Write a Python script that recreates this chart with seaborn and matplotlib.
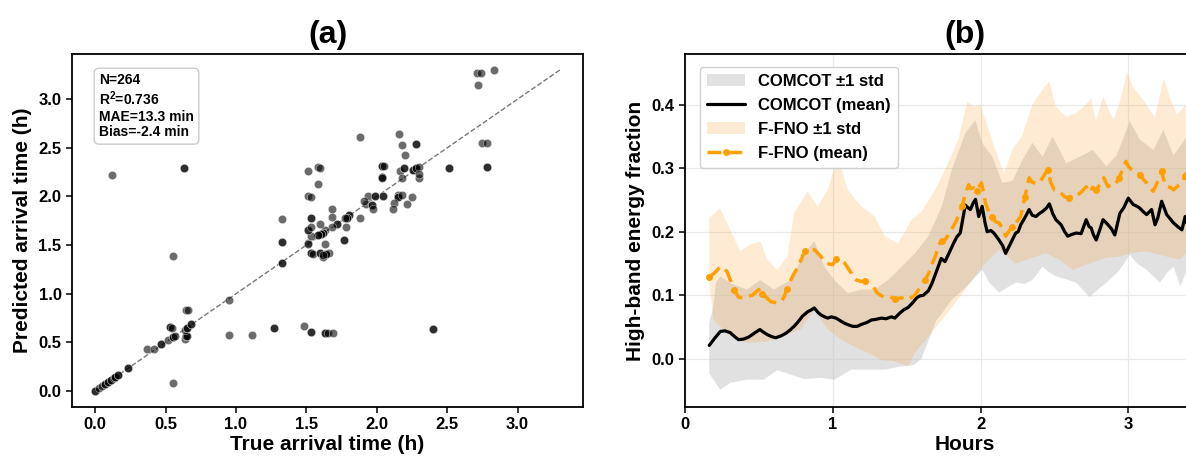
import numpy as np
import matplotlib
matplotlib.use("Agg")
import matplotlib.pyplot as plt
import seaborn as sns

# ---------------- (a) arrival-time scatter ----------------
true_h = [
    0.00, 0.00, 0.03, 0.05, 0.07, 0.07, 0.09, 0.09, 0.11, 0.11, 0.13, 0.14, 0.14, 0.16, 0.16,
    0.235, 0.235, 0.55, 0.55, 0.365, 0.416, 0.47, 0.47, 0.515, 0.55, 0.55, 0.57, 0.53, 0.53,
    0.545, 0.635, 0.645, 0.645, 0.65, 0.635, 0.65, 0.65, 0.68, 0.68, 0.645, 0.66, 0.95, 0.95,
    1.115, 1.27, 1.27, 1.33, 1.33, 1.33, 1.33, 1.33, 1.48, 1.535, 1.535, 1.63, 1.63, 1.65, 1.69,
    1.515, 0.12, 0.63, 0.63,
    1.88, 2.16, 2.18, 2.28, 2.28, 2.20, 2.75, 2.78, 2.78, 2.78, 2.515, 2.515, 1.515, 1.58, 1.60,
    1.58, 1.515, 1.535, 2.035, 2.035, 2.05, 2.035, 2.035, 2.04, 2.165, 2.19, 2.19, 2.18, 2.26,
    2.26, 2.28, 2.28, 2.30, 2.30, 2.30, 1.935, 1.985, 1.985, 2.045, 2.045, 1.92, 1.965, 1.965,
    1.97, 1.91, 2.15, 2.15, 2.15, 2.18, 2.12, 2.115, 2.215, 2.25, 1.88, 1.80, 1.80, 1.79, 1.79,
    1.775, 1.72, 1.72, 1.68, 1.63, 1.615, 1.615, 1.605, 1.605, 1.58, 1.58, 1.535, 1.68, 1.68,
    1.60, 1.535, 1.535, 1.515, 1.515, 1.535, 1.78, 1.77, 1.77, 1.63, 1.515, 1.535, 1.535, 1.545,
    1.60, 1.60, 1.615, 1.64, 1.66, 1.64, 1.62, 2.40, 2.40, 2.71, 2.74, 2.83, 2.72,
]
pred_h = [
    0.00, 0.00, 0.03, 0.05, 0.07, 0.07, 0.09, 0.09, 0.11, 0.11, 0.13, 0.14, 0.14, 0.16, 0.16,
    0.233, 0.233, 1.39, 0.08, 0.435, 0.435, 0.48, 0.48, 0.52, 0.55, 0.55, 0.57, 0.655, 0.655,
    0.645, 0.53, 0.56, 0.56, 0.565, 0.63, 0.645, 0.645, 0.685, 0.685, 0.83, 0.83, 0.935, 0.58,
    0.58, 0.65, 0.65, 1.32, 1.32, 1.53, 1.53, 1.77, 0.668, 0.61, 0.61, 0.60, 0.60, 0.60, 0.60,
    1.52, 2.22, 2.29, 2.29,
    2.615, 2.645, 2.53, 2.535, 2.535, 2.425, 2.545, 2.545, 2.305, 2.305, 2.295, 2.295, 2.26, 2.305, 2.29,
    2.125, 2.00, 1.99, 2.31, 2.31, 2.31, 2.20, 2.20, 2.195, 2.26, 2.29, 2.29, 2.185, 2.27,
    2.27, 2.295, 2.295, 2.305, 2.195, 2.23, 2.00, 2.00, 2.00, 2.00, 2.00, 1.92, 1.91, 1.91,
    1.875, 1.95, 2.02, 1.99, 1.99, 2.02, 1.93, 1.875, 1.92, 1.99, 1.775, 1.81, 1.81, 1.78, 1.78,
    1.775, 1.72, 1.72, 1.69, 1.655, 1.62, 1.62, 1.61, 1.61, 1.60, 1.60, 1.595, 1.87, 1.79,
    1.72, 1.775, 1.775, 1.66, 1.66, 1.69, 1.69, 1.55, 1.55, 1.515, 1.515, 1.415, 1.415, 1.405,
    1.415, 1.415, 1.38, 1.405, 1.415, 1.41, 1.40, 0.635, 0.635, 3.27, 3.27, 3.30, 3.145,
]

# ---------------- (b) high-band energy fraction ----------------
comcot_t = [
    0.164, 0.20, 0.239, 0.27, 0.307, 0.34, 0.363, 0.397, 0.43, 0.455, 0.48, 0.507, 0.53, 0.557,
    0.585, 0.613, 0.65, 0.682, 0.71, 0.738, 0.765, 0.795, 0.83, 0.855, 0.875, 0.90, 0.92, 0.945,
    0.966, 0.99, 1.022, 1.05, 1.079, 1.11, 1.136, 1.165, 1.193, 1.23, 1.261, 1.29, 1.329, 1.36,
    1.397, 1.42, 1.454, 1.48, 1.511, 1.54, 1.568, 1.59, 1.613, 1.647, 1.67, 1.693, 1.734, 1.76,
    1.79, 1.818, 1.84, 1.863, 1.897, 1.915, 1.931, 1.95, 1.966, 1.988, 2.011, 2.03, 2.045, 2.07,
    2.09, 2.11, 2.125, 2.15, 2.17, 2.204, 2.238, 2.255, 2.272, 2.30, 2.329, 2.35, 2.375, 2.40,
    2.42, 2.445, 2.466, 2.49, 2.51, 2.545, 2.57, 2.59, 2.62, 2.647, 2.681, 2.715, 2.735, 2.749,
    2.765, 2.783, 2.81, 2.829, 2.863, 2.885, 2.909, 2.943, 2.97, 3.0, 3.033, 3.06, 3.079, 3.10,
    3.124, 3.158, 3.181, 3.2, 3.226, 3.26, 3.285, 3.306, 3.335, 3.363, 3.385, 3.41, 3.45,
]
comcot_mean = [
    0.021, 0.032, 0.043, 0.044, 0.041, 0.034, 0.030, 0.031, 0.034, 0.038, 0.042, 0.046, 0.042, 0.038,
    0.035, 0.033, 0.036, 0.040, 0.045, 0.051, 0.058, 0.067, 0.074, 0.077, 0.080, 0.073, 0.069, 0.066,
    0.064, 0.066, 0.064, 0.060, 0.056, 0.053, 0.051, 0.051, 0.054, 0.057, 0.061, 0.062, 0.064, 0.063,
    0.066, 0.064, 0.072, 0.077, 0.081, 0.088, 0.096, 0.099, 0.100, 0.107, 0.118, 0.132, 0.158, 0.153,
    0.168, 0.182, 0.192, 0.198, 0.242, 0.238, 0.235, 0.245, 0.251, 0.224, 0.240, 0.215, 0.200, 0.202,
    0.198, 0.192, 0.187, 0.178, 0.166, 0.182, 0.198, 0.200, 0.211, 0.222, 0.235, 0.226, 0.224, 0.229,
    0.232, 0.237, 0.244, 0.228, 0.219, 0.211, 0.200, 0.193, 0.196, 0.198, 0.197, 0.219, 0.208, 0.206,
    0.195, 0.187, 0.205, 0.219, 0.211, 0.205, 0.195, 0.229, 0.238, 0.253, 0.243, 0.240, 0.237, 0.232,
    0.227, 0.235, 0.211, 0.222, 0.248, 0.227, 0.220, 0.214, 0.208, 0.203, 0.224, 0.203, 0.210,
]

fno_t = [
    0.164, 0.20, 0.239, 0.26, 0.284, 0.31, 0.33, 0.363, 0.39, 0.42, 0.455, 0.48, 0.50, 0.52, 0.545,
    0.58, 0.60, 0.625, 0.65, 0.67, 0.69, 0.716, 0.74, 0.761, 0.79, 0.81, 0.83, 0.855, 0.875, 0.90,
    0.92, 0.94, 0.954, 0.98, 1.0, 1.022, 1.05, 1.079, 1.10, 1.125, 1.14, 1.159, 1.19, 1.216, 1.245,
    1.273, 1.30, 1.329, 1.36, 1.386, 1.42, 1.466, 1.49, 1.511, 1.535, 1.556, 1.59, 1.625, 1.65,
    1.67, 1.70, 1.716, 1.74, 1.76, 1.795, 1.834, 1.855, 1.875, 1.90, 1.92, 1.935, 1.954, 1.975,
    2.006, 2.02, 2.034, 2.055, 2.079, 2.10, 2.125, 2.15, 2.17, 2.19, 2.215, 2.24, 2.272, 2.30,
    2.329, 2.35, 2.375, 2.397, 2.42, 2.454, 2.475, 2.50, 2.52, 2.545, 2.57, 2.602, 2.625, 2.647,
    2.68, 2.715, 2.735, 2.76, 2.783, 2.81, 2.834, 2.863, 2.885, 2.909, 2.94, 2.96, 2.984, 3.0,
    3.022, 3.05, 3.079, 3.10, 3.124, 3.15, 3.17, 3.2, 3.226, 3.24, 3.26, 3.285, 3.306, 3.335,
    3.363, 3.385, 3.41, 3.45,
]
fno_mean = [
    0.129, 0.135, 0.145, 0.143, 0.1375, 0.122, 0.109, 0.097, 0.096, 0.098, 0.100, 0.105, 0.109, 0.102, 0.098,
    0.090, 0.089, 0.088, 0.090, 0.097, 0.110, 0.124, 0.135, 0.143, 0.158, 0.170, 0.171, 0.172, 0.172, 0.166,
    0.161, 0.155, 0.151, 0.149, 0.148, 0.1575, 0.155, 0.151, 0.144, 0.135, 0.128, 0.124, 0.122, 0.122, 0.118,
    0.114, 0.104, 0.099, 0.097, 0.098, 0.094, 0.096, 0.094, 0.093, 0.097, 0.100, 0.112, 0.124, 0.135,
    0.148, 0.165, 0.180, 0.185, 0.187, 0.200, 0.216, 0.228, 0.240, 0.262, 0.274, 0.268, 0.269, 0.265,
    0.277, 0.262, 0.245, 0.232, 0.224, 0.216, 0.214, 0.205, 0.193, 0.200, 0.208, 0.214, 0.224, 0.255,
    0.285, 0.278, 0.276, 0.277, 0.285, 0.298, 0.278, 0.266, 0.265, 0.261, 0.255, 0.253, 0.258, 0.256,
    0.262, 0.271, 0.262, 0.270, 0.266, 0.275, 0.285, 0.271, 0.275, 0.274, 0.285, 0.298, 0.311, 0.303,
    0.298, 0.293, 0.290, 0.283, 0.277, 0.268, 0.264, 0.280, 0.295, 0.282, 0.271, 0.270, 0.266, 0.272,
    0.277, 0.288, 0.298, 0.290,
]

# +/- 1 std envelopes (upper and lower edges)
comcot_up_t = [
    0.164, 0.19, 0.21, 0.239, 0.307, 0.42, 0.511, 0.602, 0.716, 0.807, 0.875, 0.943, 1.011, 1.102,
    1.193, 1.284, 1.375, 1.466, 1.556, 1.647, 1.738, 1.806, 1.897, 1.965, 2.011, 2.08, 2.148,
    2.216, 2.284, 2.352, 2.42, 2.488, 2.58, 2.67, 2.76, 2.852, 2.92, 3.011, 3.079, 3.17, 3.238,
    3.306, 3.397, 3.45,
]
comcot_up = [
    0.056, 0.080, 0.120, 0.130, 0.119, 0.109, 0.124, 0.109, 0.124, 0.166, 0.185, 0.145, 0.124, 0.103,
    0.109, 0.109, 0.124, 0.145, 0.166, 0.193, 0.240, 0.298, 0.355, 0.376, 0.340, 0.318, 0.277,
    0.280, 0.313, 0.340, 0.318, 0.350, 0.308, 0.318, 0.329, 0.303, 0.320, 0.374, 0.345, 0.329, 0.360,
    0.320, 0.350, 0.345,
]
comcot_lo_t = [
    0.164, 0.239, 0.307, 0.42, 0.534, 0.625, 0.716, 0.807, 0.92, 1.011, 1.125, 1.239, 1.352, 1.466,
    1.55, 1.60, 1.65, 1.70, 1.74, 1.806, 1.897, 2.011, 2.06, 2.125, 2.18, 2.238, 2.30, 2.352, 2.42,
    2.47, 2.511, 2.58, 2.647, 2.738, 2.80, 2.852, 2.90, 2.943, 3.011, 3.06, 3.124, 3.215, 3.26,
    3.306, 3.352, 3.415, 3.45,
]
comcot_lo = [
    -0.023, -0.049, -0.038, -0.033, -0.033, -0.018, -0.025, -0.032, -0.030, -0.033, -0.017, -0.017, -0.017, -0.012,
    -0.010, 0.000, 0.030, 0.060, 0.072, 0.093, 0.112, 0.140, 0.120, 0.104, 0.112, 0.120, 0.118, 0.124, 0.145,
    0.135, 0.130, 0.125, 0.120, 0.097, 0.110, 0.120, 0.130, 0.140, 0.164, 0.150, 0.140, 0.120, 0.135,
    0.145, 0.114, 0.150, 0.140,
]
fno_up_t = [
    0.164, 0.239, 0.307, 0.375, 0.443, 0.511, 0.557, 0.625, 0.693, 0.738, 0.829, 0.898, 0.966, 1.034,
    1.102, 1.193, 1.284, 1.352, 1.443, 1.534, 1.602, 1.693, 1.76, 1.85, 1.91, 1.954, 2.0, 2.057,
    2.10, 2.16, 2.215, 2.28, 2.35, 2.42, 2.466, 2.51, 2.58, 2.64, 2.69, 2.75, 2.78, 2.83, 2.90,
    2.95, 2.99, 3.03, 3.10, 3.18, 3.24, 3.28, 3.33, 3.37, 3.415, 3.45,
]
fno_up = [
    0.222, 0.237, 0.203, 0.169, 0.180, 0.185, 0.156, 0.140, 0.161, 0.229, 0.264, 0.240, 0.266, 0.318,
    0.266, 0.240, 0.224, 0.193, 0.182, 0.219, 0.232, 0.266, 0.298, 0.345, 0.405, 0.397, 0.400, 0.360,
    0.329, 0.292, 0.329, 0.350, 0.400, 0.424, 0.437, 0.397, 0.381, 0.386, 0.395, 0.410, 0.374, 0.413, 0.376,
    0.410, 0.452, 0.429, 0.408, 0.380, 0.442, 0.413, 0.384, 0.395, 0.405, 0.410,
]
fno_lo_t = [
    0.164, 0.193, 0.307, 0.42, 0.557, 0.648, 0.784, 0.875, 0.966, 1.057, 1.148, 1.239, 1.33, 1.42,
    1.511, 1.556, 1.647, 1.70, 1.76, 1.829, 1.897, 2.011, 2.125, 2.238, 2.352, 2.443, 2.534, 2.624,
    2.738, 2.852, 2.943, 3.011, 3.124, 3.26, 3.352, 3.415, 3.45,
]
fno_lo = [
    0.120, 0.061, 0.035, 0.025, 0.027, 0.035, 0.046, 0.077, 0.046, 0.030, 0.019, 0.009, -0.002, -0.004,
    -0.012, 0.009, 0.035, 0.050, 0.067, 0.088, 0.109, 0.145, 0.172, 0.150, 0.159, 0.166, 0.156, 0.140,
    0.150, 0.159, 0.161, 0.166, 0.169, 0.161, 0.156, 0.172, 0.165,
]

# ---------------- styling ----------------
sns.set_style("ticks")
plt.rcParams["font.family"] = ["Liberation Sans", "DejaVu Sans"]
plt.rcParams["font.weight"] = "bold"
plt.rcParams["axes.labelweight"] = "bold"
plt.rcParams["axes.titleweight"] = "bold"
plt.rcParams["axes.linewidth"] = 1.3
plt.rcParams["axes.edgecolor"] = "black"
plt.rcParams["text.color"] = "black"
plt.rcParams["axes.labelcolor"] = "black"
plt.rcParams["xtick.color"] = "black"
plt.rcParams["ytick.color"] = "black"
plt.rcParams["mathtext.fontset"] = "custom"
plt.rcParams["mathtext.rm"] = "Liberation Sans:bold"
plt.rcParams["mathtext.bf"] = "Liberation Sans:bold"
plt.rcParams["mathtext.it"] = "Liberation Sans:bold"

W, H = 1186, 458
fig = plt.figure(figsize=(W / 100, H / 100), dpi=100)
ax1 = fig.add_axes([72 / W, 51 / H, 511 / W, 353 / H])
ax2 = fig.add_axes([685 / W, 51 / H, 560 / W, 353 / H])

# ---- panel (a)
sns.scatterplot(x=true_h, y=pred_h, ax=ax1, color="black", alpha=0.58, s=36,
                edgecolor="white", linewidth=0.4, zorder=3)
lim_hi = max(max(true_h), max(pred_h))
ax1.plot([0, lim_hi], [0, lim_hi], ls="--", color="#777777", lw=1.0, zorder=2)
pad = 0.05 * lim_hi
ax1.set_xlim(-pad, lim_hi + pad)
ax1.set_ylim(-pad, lim_hi + pad)
ax1.set_xticks([0.0, 0.5, 1.0, 1.5, 2.0, 2.5, 3.0])
ax1.set_yticks([0.0, 0.5, 1.0, 1.5, 2.0, 2.5, 3.0])
ax1.set_xlabel("True arrival time (h)", fontsize=15, labelpad=2)
ax1.set_ylabel("Predicted arrival time (h)", fontsize=15, labelpad=5)
ax1.set_title("(a)", fontsize=23, pad=8)
ax1.tick_params(labelsize=12, length=4, width=1.1)

stats = "N=264\n$\\mathbf{R^2}$=0.736\nMAE=13.3 min\nBias=-2.4 min"
ax1.text(0.053, 0.946, stats, transform=ax1.transAxes, fontsize=10, fontweight="bold",
         va="top", ha="left", linespacing=1.15,
         bbox=dict(boxstyle="round,pad=0.35", fc="white", ec="#cccccc", lw=1.0))

# ---- panel (b)
ax2.grid(True, color="#e9e9e9", lw=0.9, zorder=0)
ax2.set_axisbelow(True)
g_fill = ax2.fill(np.concatenate([comcot_up_t, comcot_lo_t[::-1]]),
                  np.concatenate([comcot_up, comcot_lo[::-1]]),
                  color="#c4c4c4", alpha=0.5, lw=0, zorder=1, label="COMCOT \u00b11 std")[0]
sns.lineplot(x=comcot_t, y=comcot_mean, ax=ax2, color="black", lw=2.3, zorder=5,
             label="COMCOT (mean)", legend=False)
o_fill = ax2.fill(np.concatenate([fno_up_t, fno_lo_t[::-1]]),
                  np.concatenate([fno_up, fno_lo[::-1]]),
                  color="#ff8c00", alpha=0.17, lw=0, zorder=2, label="F-FNO \u00b11 std")[0]
sns.lineplot(x=fno_t, y=fno_mean, ax=ax2, color="#ff9f00", lw=2.5, ls=(0, (4, 2)),
             marker="o", markersize=5, markeredgewidth=0, markevery=0.06, zorder=6,
             label="F-FNO (mean)", legend=False)
ax2.set_xlim(0, 3.79)
ax2.set_ylim(-0.076, 0.48)
ax2.set_xticks([0, 1, 2, 3])
ax2.set_yticks([0.0, 0.1, 0.2, 0.3, 0.4])
ax2.set_xlabel("Hours", fontsize=15, labelpad=2)
ax2.set_ylabel("High-band energy fraction", fontsize=15, labelpad=5)
ax2.set_title("(b)", fontsize=23, pad=8)
ax2.tick_params(labelsize=12, length=4, width=1.1)

handles = [g_fill, ax2.lines[0], o_fill, ax2.lines[1]]
labels = [h.get_label() for h in handles]
ax2.legend(handles, labels, loc="upper left", bbox_to_anchor=(0.027, 0.963), borderaxespad=0,
           handlelength=2.3, labelspacing=0.55, frameon=True, edgecolor="#cccccc",
           framealpha=0.9, prop={"weight": "bold", "size": 12})

fig.savefig("out.png", dpi=100)
